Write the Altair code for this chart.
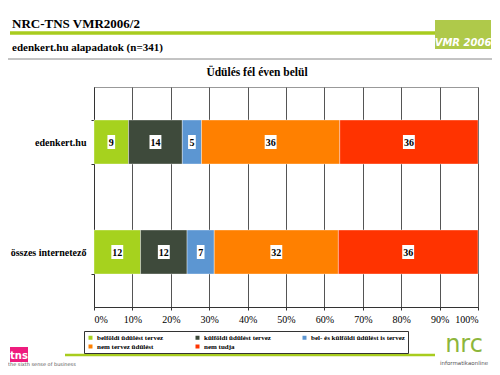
import altair as alt
import pandas as pd

# ---- data ----
categories = ["edenkert.hu", "összes internetező"]
series = [
    "belföldi üdülést tervez",
    "külföldi üdülést tervez",
    "bel- és külföldi üdülést is tervez",
    "nem tervez üdülést",
    "nem tudja",
]
values_edenkert = [9, 14, 5, 36, 36]
values_osszes = [12, 12, 7, 32, 36]
colors = ["#A6D21E", "#3E4A3B", "#5C96D2", "#FF8000", "#FF3300"]
x_ticks = [0, 0.1, 0.2, 0.3, 0.4, 0.5, 0.6, 0.7, 0.8, 0.9, 1.0]

title_text = "NRC-TNS VMR2006/2"
subtitle_text = "edenkert.hu alapadatok (n=341)"
chart_title = "Üdülés fél éven belül"

SERIF = "Liberation Serif"

rows = []
for cat, vals in zip(categories, [values_edenkert, values_osszes]):
    for i, (s, v) in enumerate(zip(series, vals)):
        w = 0.55 if v < 10 else 0.85
        rows.append({
            "cat": cat, "series": s, "order": i, "value": v,
            "box": f"M-{w},-1L{w},-1L{w},1L-{w},1Z",
        })
df = pd.DataFrame(rows)

W, H = 384, 220

base = alt.Chart(df).transform_stack(
    stack="value", groupby=["cat"], as_=["start", "end"],
    offset="normalize", sort=[alt.SortField("order", order="ascending")],
).transform_calculate(mid="(datum.start + datum.end) / 2")

xscale = alt.Scale(domain=[0, 1], nice=False)
xaxis = alt.Axis(title=None, format=".0%", values=x_ticks, labelOverlap=False,
                 labelFont=SERIF, labelFontSize=10, labelColor="#000",
                 labelPadding=4, tickSize=3, tickColor="#333",
                 domainColor="#333", grid=True, gridColor="#555", gridWidth=1)
yscale = alt.Scale(paddingInner=0.6, paddingOuter=0.3)
yaxis = alt.Axis(title=None, labelFont=SERIF, labelFontWeight="bold",
                 labelFontSize=10, labelColor="#000", labelPadding=5,
                 tickBand="extent", tickSize=3, tickColor="#333",
                 domainColor="#333", grid=False)

bars = base.mark_bar(stroke="#ffffff", strokeWidth=0.6, strokeOpacity=0.6).encode(
    x=alt.X("start:Q", scale=xscale, axis=xaxis),
    x2="end:Q",
    y=alt.Y("cat:N", sort=categories, scale=yscale, axis=yaxis),
    color=alt.Color("series:N", scale=alt.Scale(domain=series, range=colors),
                    legend=alt.Legend(title=None, orient="none", legendX=-10,
                                      legendY=244, columns=3, direction="horizontal",
                                      columnPadding=30, rowPadding=1, padding=3,
                                      strokeColor="#333", symbolType="square",
                                      symbolSize=16, symbolStrokeWidth=0,
                                      labelFont=SERIF, labelFontWeight="bold",
                                      labelFontSize=7, labelColor="#000",
                                      labelOffset=3, labelLimit=200)),
)

boxes = base.mark_point(filled=True, color="#ffffff", opacity=1, strokeWidth=0).encode(
    x=alt.X("mid:Q", scale=xscale, axis=xaxis),
    y=alt.Y("cat:N", sort=categories, scale=yscale, axis=yaxis),
    shape=alt.Shape("box:N", scale=None), size=alt.value(196),
)

labels = base.mark_text(font=SERIF, fontWeight="bold", fontSize=10, color="#000",
                        baseline="middle", align="center", dy=0.5).encode(
    x=alt.X("mid:Q", scale=xscale, axis=xaxis),
    y=alt.Y("cat:N", sort=categories, scale=yscale, axis=yaxis),
    text="value:Q",
)

one = pd.DataFrame({"k": [0]})


def txt(t, x, y, size, weight="bold", color="#000", align="left", font=SERIF,
        style="normal"):
    return alt.Chart(pd.DataFrame({"t": [t]})).mark_text(
        font=font, fontSize=size, fontWeight=weight, color=color, align=align,
        fontStyle=style, baseline="alphabetic").encode(
        x=alt.value(x), y=alt.value(y), text="t:N")


def rule(x1, x2, y, color, width):
    return alt.Chart(one).mark_rule(color=color, strokeWidth=width).encode(
        x=alt.value(x1), x2=alt.value(x2), y=alt.value(y))


def box(x1, x2, y1, y2, color):
    return alt.Chart(one).mark_rect(color=color).encode(
        x=alt.value(x1), x2=alt.value(x2), y=alt.value(y1), y2=alt.value(y2))


deco = [
    txt(title_text, -82, -59, 13),
    rule(-84, 341, -54, "#A8CC1E", 3.5),
    txt(subtitle_text, -82, -36, 11),
    rule(-94, 406, -28, "#888888", 1),
    txt(chart_title, 163, -11, 11.5, align="center"),
    # VMR logo
    box(341, 397, -67, -38, "#AFC94A"),
    txt("VMR 2006", 369, -41, 10, color="#ffffff", align="center",
        font="DejaVu Sans", style="italic"),
    # bottom line
    rule(-29, 341, 268, "#A8CC1E", 2.5),
    # tns logo
    box(-84, -66, 260, 275, "#EE1C7E"),
    txt("tns", -75, 272, 10, color="#ffffff", align="center", font="DejaVu Sans"),
    txt("the sixth sense of business", -86, 279, 5, weight="normal",
        color="#555", font="DejaVu Sans"),
    # nrc logo
    txt("nrc", 370, 265, 24, weight="normal", color="#8DB63C", align="center",
        font="DejaVu Sans"),
    txt("informatikaonline", 370, 278, 5.5, weight="normal", color="#555",
        align="center", font="DejaVu Sans"),
]

chart = alt.layer(bars, boxes, labels, *deco).properties(
    width=W, height=H,
    autosize=alt.AutoSizeParams(type="none"),
    padding={"left": 86, "top": 79, "right": 14, "bottom": 60},
    background="#ffffff",
).configure_view(stroke="#999999", strokeWidth=1)

chart.save("out.html", embed_options={"renderer": "svg", "actions": False})
